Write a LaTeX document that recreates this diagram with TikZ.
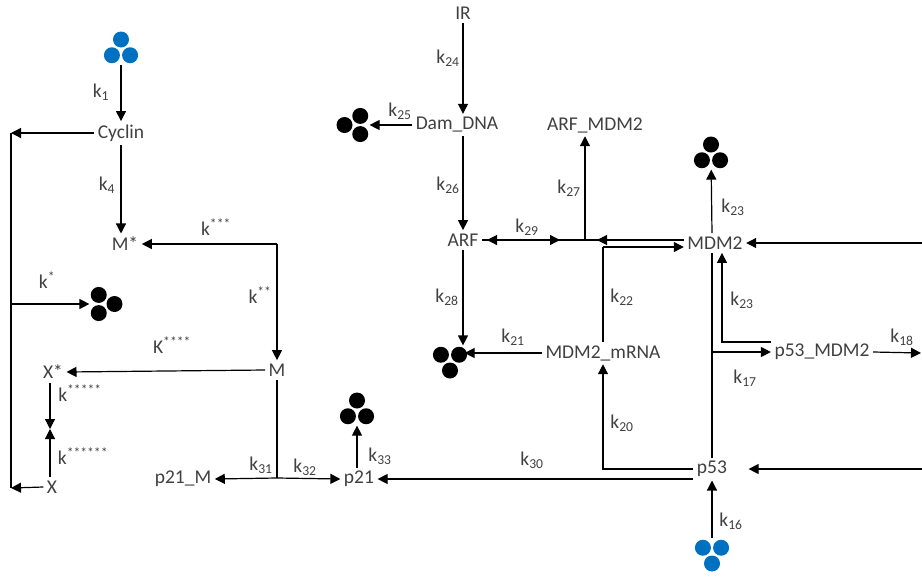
\documentclass[tikz,border=0pt]{standalone}
\usepackage{fontspec}
\setmainfont{Carlito}
\usetikzlibrary{arrows.meta,decorations.markings}
\definecolor{dotblue}{RGB}{0,112,192}
\definecolor{txtgray}{RGB}{64,64,64}
\tikzset{
  >={Triangle[length=10pt,width=10pt]},
  sp/.style={inner sep=3pt, text=txtgray},
  rate/.style={inner sep=0pt, text=txtgray},
  clump/.style={circle, minimum size=28pt, inner sep=0pt},
}
% three dots: name, position, apex angle, colour
\newcommand\trio[4]{%
  \node[clump] (#1) at (#2) {};
  \foreach \a in {0,120,240} \fill[#4] (#1.center) ++(#3+\a:10.5pt) circle (8pt);
}
\begin{document}
\begin{tikzpicture}[x=1pt, y=-1pt, line width=1.2pt, font=\fontsize{19.5}{23}\selectfont]
\useasboundingbox (0,0) rectangle (922,582);
% species
\node[sp] (cyc) at (121,133) {Cyclin};
\node[sp] (Ms) at (125,244) {M*};
\node[sp] (M) at (277,370) {M};
\node[sp] (Xs) at (53,372) {X*};
\node[sp] (X) at (52,487) {X};
\node[sp] (p21m) at (183,479) {p21\_M};
\node[sp] (p21) at (359,479) {p21};
\node[sp] (IR) at (463,13) {IR};
\node[sp] (dam) at (457,125) {Dam\_DNA};
\node[sp] (arf) at (463,240) {ARF};
\node[sp] (arfmdm) at (595,125) {ARF\_MDM2};
\node[sp] (mdm) at (715,243) {MDM2};
\node[sp] (mrna) at (603,353) {MDM2\_mRNA};
\node[sp] (pmdm) at (822,352) {p53\_MDM2};
\node[sp] (p53) at (712,469) {p53};
% sources and sinks
\trio{srcC}{121,50}{90}{dotblue}
\trio{snkX}{104,304}{0}{black}
\trio{snkP}{357,411}{90}{black}
\trio{snkD}{355,125}{180}{black}
\trio{snkR}{450,360}{270}{black}
\trio{snkM}{711,155}{90}{black}
\trio{srcP}{712,553}{270}{dotblue}
% corners
\coordinate (ltop) at (11,133);
\coordinate (lbot) at (11,488);
\coordinate (cM) at (277,244);
\coordinate (xm) at (50,429);
\coordinate (j21) at (277,478);
\coordinate (j27) at (585,240);
\coordinate (j22) at (603,247);
\coordinate (rgt1) at (922,243);
\coordinate (rgt2) at (921,353);
\coordinate (rgt3) at (922,469);
% cell cycle side
\draw[->] (srcC) -- (srcC |- cyc.north);
\draw[->] (cyc.west) -- (ltop);
\draw (ltop) -- (lbot);
\draw[->] (ltop |- snkX) -- (snkX);
\draw[->] (cyc.south) -- (cyc.south |- Ms.north);
\draw[->] (cM) -- (Ms.east);
\draw[->] (cM) -- (M.north);
\draw[->] (M.west) -- (Xs.east);
\draw[->] (Xs.south -| xm) -- (xm);
\draw[->] (X.north -| xm) -- (xm);
\draw[->] (X.west) -- (lbot);
\draw (M.south) -- (j21);
\draw[->] (j21) -- (p21m.east);
\draw[->] (j21) -- (p21.west);
\draw[->] (p21.north -| snkP) -- (snkP);
% p53 side
\draw[->] (IR.south) -- (IR.south |- dam.north);
\draw[->] (dam.west) -- (snkD);
\draw[->] (dam.south -| arf) -- (arf.north);
\draw[->] (arf.south) -- (arf.south |- snkR.north);
\draw[decoration={markings, mark=at position 15pt with {\arrow{<}},
  mark=at position 78pt with {\arrow{>}}, mark=at position 125pt with {\arrow{<}}},
  postaction=decorate] (arf.east) -- (arf.east -| mdm.west);
\draw[->] (j27) -- (j27 |- arfmdm.south);
\draw[->] (j22) -- (j22 -| mdm.west);
\draw (j22) -- (mrna.north);
\draw[->] (mrna.west) -- (mrna.west -| snkR.east);
\draw[->] (p53.north |- mdm.north) -- (snkM);
\draw[->] (rgt1) -- (mdm.east);
\draw (p53.north) -- (p53.north |- mdm.south);
\draw[->] (p53.north |- pmdm) -- (pmdm.west);
\draw[->] ([yshift=10pt]pmdm.west) -| ([xshift=7pt]mdm.south);
\draw[->] (pmdm.east) -- (rgt2);
\draw[->] (p53.west) -| (mrna.south);
\draw[->] (p53.west |- p21) -- (p21.east);
\draw[->, shorten >=18pt] (rgt3) -- (p53.east);
\draw[->] (srcP) -- (p53.south);
% rate labels
\node[rate] (k1) at (101,92) {k\textsubscript{1}};
\node[rate] (k4) at (107,185) {k\textsubscript{4}};
\node[rate] (kc) at (216,227) {k\textsuperscript{***}};
\node[rate] (ka) at (47,280) {k\textsuperscript{*}};
\node[rate] (kb) at (260,295) {k\textsuperscript{**}};
\node[rate] (kd) at (172,345) {K\textsuperscript{****}};
\node[rate] (ke) at (80,393) {k\textsuperscript{*****}};
\node[rate] (kf) at (83,456) {k\textsuperscript{******}};
\node[rate] (k31) at (261,465) {k\textsubscript{31}};
\node[rate] (k32) at (305,467) {k\textsubscript{32}};
\node[rate] (k33) at (380,456) {k\textsubscript{33}};
\node[rate] (k24) at (448,58) {k\textsubscript{24}};
\node[rate] (k25) at (400,111) {k\textsubscript{25}};
\node[rate] (k26) at (448,185) {k\textsubscript{26}};
\node[rate] (k27) at (569,188) {k\textsubscript{27}};
\node[rate] (k29) at (527,227) {k\textsubscript{29}};
\node[rate] (k28) at (447,297) {k\textsubscript{28}};
\node[rate] (k21) at (513,337) {k\textsubscript{21}};
\node[rate] (k22) at (622,297) {k\textsubscript{22}};
\node[rate] (k23) at (733,207) {k\textsubscript{23}};
\node[rate] (k23b) at (742,300) {k\textsubscript{23}};
\node[rate] (k17) at (745,378) {k\textsubscript{17}};
\node[rate] (k18) at (902,337) {k\textsubscript{18}};
\node[rate] (k20) at (622,423) {k\textsubscript{20}};
\node[rate] (k30) at (532,460) {k\textsubscript{30}};
\node[rate] (k16) at (731,521) {k\textsubscript{16}};
\end{tikzpicture}
\end{document}
